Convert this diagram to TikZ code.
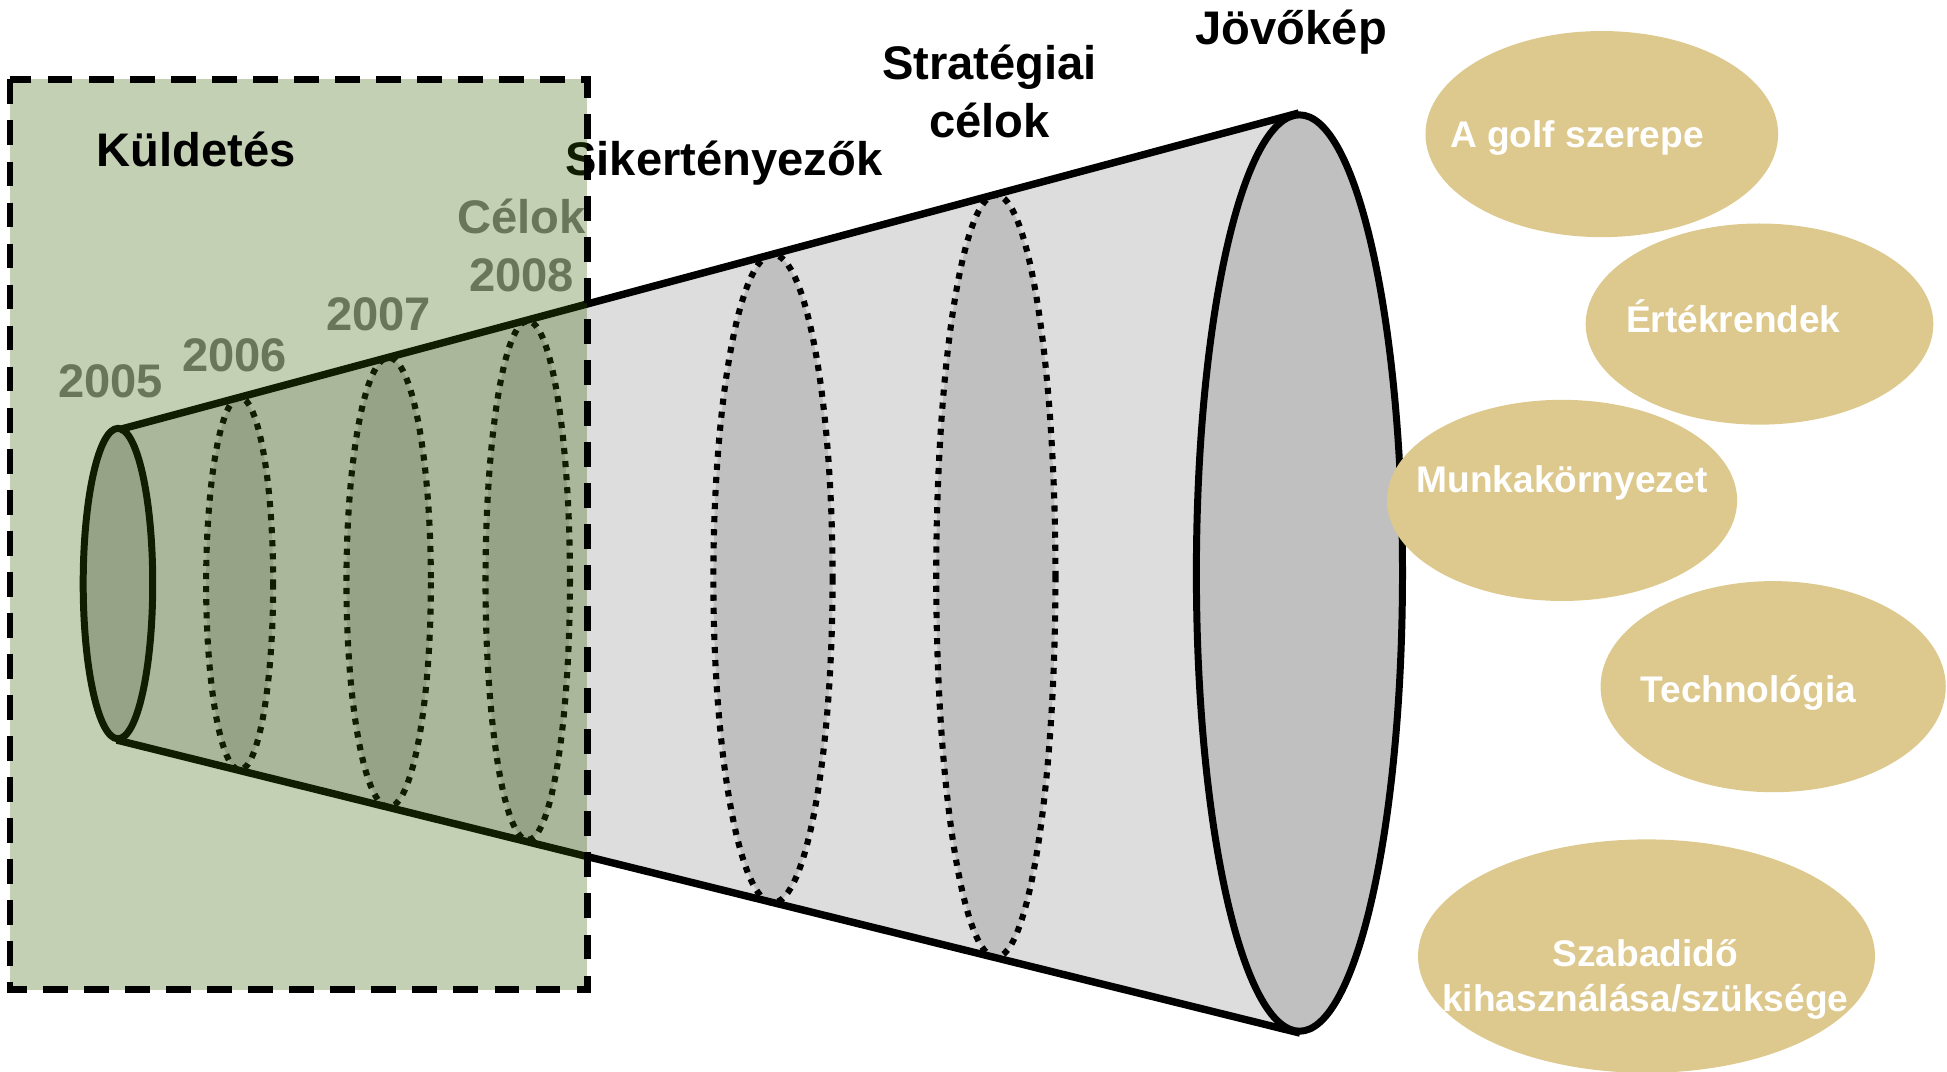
\documentclass[tikz,border=0pt]{standalone}
\usepackage{fontspec}
\setmainfont{Liberation Sans}
\usepackage{tikz}
\usetikzlibrary{shapes.geometric}

\definecolor{conegray}{RGB}{221,221,221}
\definecolor{ringgray}{RGB}{192,192,192}
\definecolor{boxgreen}{RGB}{55,98,5}
\definecolor{yeargray}{RGB}{128,128,128}
\definecolor{bubbletan}{RGB}{221,201,142}

\begin{document}
\begin{tikzpicture}[x=0.1mm,y=-0.1mm,
    heading/.style={font=\bfseries\fontsize{10.8}{13.3}\selectfont,anchor=base,align=center,inner sep=0pt},
    year/.style={heading,text=yeargray},
    ring/.style={fill=ringgray,draw=black,line width=1.4pt,dash pattern=on 1.4pt off 1.6pt},
    rim/.style={fill=ringgray,draw=black,line width=1.6pt},
    bubble/.style={ellipse,fill=bubbletan,inner sep=0pt},
    bubbletext/.style={font=\bfseries\fontsize{8.5}{10.5}\selectfont,text=white,anchor=base,align=center,inner sep=0pt}]
    \useasboundingbox (0,0) rectangle (1568,863);

    % Cone body
    \fill[conegray] (96,346) -- (1046,91) -- (1047,832) -- (94,596) -- cycle;

    % Dotted cross sections
    \draw[ring] (193,470) ellipse [x radius=27, y radius=150];
    \draw[ring] (313,469) ellipse [x radius=34, y radius=181];
    \draw[ring] (425,467.5) ellipse [x radius=34, y radius=209];
    \draw[ring] (622.5,466) ellipse [x radius=48, y radius=261];
    \draw[ring] (802,464) ellipse [x radius=48, y radius=307];

    % Narrow end, outline, wide end
    \draw[rim] (95,470) ellipse [x radius=28, y radius=125];
    \draw[line width=1.7pt] (96,346) -- (1046,91);
    \draw[line width=1.7pt] (94,596) -- (1047,832);
    \draw[rim] (1046.5,461.5) ellipse [x radius=83, y radius=369];

    % Labels along the cone (base = last line)
    \node[heading] (sikertenyezok) at (583,141) {Sikertényezők};
    \node[heading] (strategiai) at (797,111) {Stratégiai\\célok};
    \node[heading] (jovokep) at (1040,36) {Jövőkép};
    \node[year] (y2005) at (89,320) {2005};
    \node[year] (y2006) at (189,299) {2006};
    \node[year] (y2007) at (305,266) {2007};
    \node[year] (celok) at (420,235) {Célok\\2008};

    % Mission box
    \fill[boxgreen,fill opacity=0.3] (8,64) rectangle (473,797);
    \draw[line width=1.5pt,dash pattern=on 5.7pt off 3.7pt] (8,64) rectangle (473,797);
    \node[heading] (kuldetes) at (158,134) {Küldetés};

    % Vision factors
    \node[bubble,minimum width=28.4mm,minimum height=16.6mm] (golf) at (1290,108) {};
    \node[bubbletext] (golftext) at (1270,119) {A golf szerepe};
    \node[bubble,minimum width=28.0mm,minimum height=16.2mm] (ertek) at (1417,261) {};
    \node[bubbletext] (ertektext) at (1396,268) {Értékrendek};
    \node[bubble,minimum width=28.2mm,minimum height=16.2mm] (munka) at (1258,403) {};
    \node[bubbletext] (munkatext) at (1258,397) {Munkakörnyezet};
    \node[bubble,minimum width=27.8mm,minimum height=17.0mm] (techno) at (1428,553) {};
    \node[bubbletext] (technotext) at (1408,566) {Technológia};
    \node[bubble,minimum width=36.8mm,minimum height=18.8mm] (szabad) at (1326,770) {};
    \node[bubbletext] (szabadtext) at (1325,815) {Szabadidő\\kihasználása/szüksége};
\end{tikzpicture}
\end{document}
